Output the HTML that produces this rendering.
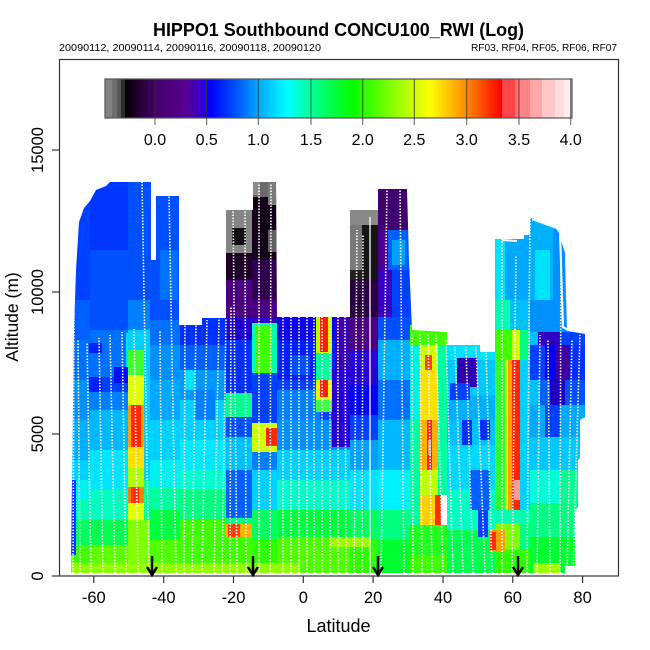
<!DOCTYPE html>
<html><head><meta charset="utf-8"><style>html,body{margin:0;padding:0;background:#fff}svg{display:block}</style></head><body>
<svg width="650" height="650" viewBox="0 0 650 650" xmlns="http://www.w3.org/2000/svg" font-family="'Liberation Sans', Arial, sans-serif">
<rect width="650" height="650" fill="#fff"/>
<defs>
<clipPath id="d"><polygon points="71,573 72,480 74,330 76,270 79,222 84,208 90,201 96,190 106,186 110,182 151,182 151,260 156,260 156,196 179,196 179,325 202,325 202,318 226,318 226,210 253,210 253,182 276,182 277,317 350,317 350,210 378,210 378,189 407,189 409,260 412,330 447,332 447,345 480,345 480,352 495,352 495,239 524,239 524,218 532,218 558,228 561,240 565,253 567,330 585,332 585,417 580,420 580,458 578,460 578,507 575,510 575,566 565,566 565,573"/></clipPath>
<linearGradient id="cb" x1="0" y1="0" x2="1" y2="0">
<stop offset="0" stop-color="#000000"/><stop offset="0.04" stop-color="#250035"/><stop offset="0.08" stop-color="#430068"/><stop offset="0.159" stop-color="#580090"/><stop offset="0.199" stop-color="#3a00c8"/><stop offset="0.228" stop-color="#0000ff"/><stop offset="0.305" stop-color="#0060ff"/><stop offset="0.353" stop-color="#00a8ff"/><stop offset="0.432" stop-color="#00ffff"/><stop offset="0.493" stop-color="#00ff99"/><stop offset="0.602" stop-color="#00ff00"/><stop offset="0.703" stop-color="#80ff00"/><stop offset="0.809" stop-color="#ffff00"/><stop offset="0.905" stop-color="#ff8a00"/><stop offset="1" stop-color="#ff0000"/>
</linearGradient>
</defs>
<g clip-path="url(#d)">
<rect x="70" y="180" width="20" height="120" fill="#0040ff"/>
<rect x="70" y="300" width="20" height="40" fill="#0060ff"/>
<rect x="70" y="340" width="20" height="40" fill="#0070ff"/>
<rect x="70" y="380" width="20" height="40" fill="#0090ff"/>
<rect x="70" y="420" width="20" height="40" fill="#00b0ff"/>
<rect x="70" y="460" width="20" height="20" fill="#00d0ff"/>
<rect x="70" y="480" width="20" height="20" fill="#00f0f0"/>
<rect x="70" y="500" width="20" height="20" fill="#00ffb0"/>
<rect x="70" y="520" width="20" height="25" fill="#00ff60"/>
<rect x="70" y="545" width="20" height="30" fill="#40ff00"/>
<rect x="70" y="480" width="6" height="75" fill="#0030ff"/>
<rect x="90" y="180" width="38" height="70" fill="#0035ff"/>
<rect x="90" y="250" width="38" height="80" fill="#0050ff"/>
<rect x="90" y="330" width="38" height="47" fill="#0070ff"/>
<rect x="90" y="377" width="38" height="15" fill="#0040ff"/>
<rect x="90" y="392" width="38" height="18" fill="#0080ff"/>
<rect x="90" y="410" width="38" height="40" fill="#00b8ff"/>
<rect x="90" y="450" width="38" height="40" fill="#00e4ff"/>
<rect x="90" y="490" width="38" height="30" fill="#00ffc0"/>
<rect x="90" y="520" width="38" height="25" fill="#00ff50"/>
<rect x="90" y="545" width="38" height="30" fill="#60ff00"/>
<rect x="89" y="377" width="13" height="15" fill="#0020ff"/>
<rect x="114" y="367" width="15" height="16" fill="#0010ff"/>
<rect x="89" y="343" width="13" height="10" fill="#0020ff"/>
<rect x="126" y="333" width="4" height="34" fill="#00e0ff"/>
<rect x="128" y="180" width="22" height="120" fill="#0050ff"/>
<rect x="128" y="300" width="22" height="30" fill="#0080ff"/>
<rect x="128" y="330" width="22" height="20" fill="#00d0ff"/>
<rect x="128" y="350" width="22" height="225" fill="#a0ff00"/>
<rect x="128" y="350" width="16" height="25" fill="#40ff30"/>
<rect x="128" y="375" width="16" height="30" fill="#e0ff00"/>
<rect x="128" y="405" width="16" height="42" fill="#ffa000"/>
<rect x="131" y="405" width="10" height="42" fill="#ff2800"/>
<rect x="128" y="447" width="16" height="20" fill="#ffe000"/>
<rect x="128" y="467" width="16" height="20" fill="#b0ff00"/>
<rect x="128" y="487" width="16" height="16" fill="#ff8000"/>
<rect x="131" y="487" width="8" height="16" fill="#ff3000"/>
<rect x="128" y="503" width="16" height="17" fill="#e0ff00"/>
<rect x="128" y="520" width="22" height="55" fill="#80ff00"/>
<rect x="144" y="350" width="6" height="130" fill="#00d0ff"/>
<rect x="144" y="480" width="6" height="40" fill="#00ffa0"/>
<rect x="150" y="180" width="30" height="140" fill="#0050ff"/>
<rect x="160" y="250" width="18" height="50" fill="#0070ff"/>
<rect x="150" y="320" width="30" height="25" fill="#0070ff"/>
<rect x="150" y="345" width="30" height="35" fill="#0090ff"/>
<rect x="150" y="380" width="30" height="40" fill="#00a8ff"/>
<rect x="150" y="420" width="30" height="40" fill="#00d0ff"/>
<rect x="150" y="460" width="30" height="28" fill="#00f0f0"/>
<rect x="150" y="488" width="30" height="22" fill="#00ffa0"/>
<rect x="150" y="510" width="30" height="30" fill="#00ff40"/>
<rect x="150" y="540" width="30" height="35" fill="#50ff00"/>
<rect x="180" y="315" width="46" height="30" fill="#0030ff"/>
<rect x="180" y="345" width="46" height="25" fill="#0060ff"/>
<rect x="180" y="370" width="46" height="30" fill="#0098ff"/>
<rect x="180" y="400" width="46" height="40" fill="#00d0ff"/>
<rect x="180" y="440" width="46" height="30" fill="#00e8ff"/>
<rect x="180" y="470" width="46" height="20" fill="#00ffd0"/>
<rect x="180" y="490" width="46" height="30" fill="#00ff80"/>
<rect x="180" y="520" width="46" height="55" fill="#40ff00"/>
<rect x="195" y="390" width="20" height="30" fill="#0080ff"/>
<rect x="185" y="370" width="10" height="20" fill="#00e0ff"/>
<rect x="226" y="205" width="26" height="48" fill="#858585"/>
<rect x="232" y="228" width="14" height="17" fill="#101010"/>
<rect x="226" y="253" width="26" height="27" fill="#200028"/>
<rect x="226" y="280" width="26" height="37" fill="#4b0080"/>
<rect x="226" y="317" width="26" height="23" fill="#2000c8"/>
<rect x="226" y="340" width="26" height="53" fill="#0030ff"/>
<rect x="226" y="393" width="26" height="24" fill="#00ff90"/>
<rect x="226" y="417" width="26" height="20" fill="#0050ff"/>
<rect x="226" y="437" width="26" height="33" fill="#00c0ff"/>
<rect x="226" y="470" width="26" height="48" fill="#0060ff"/>
<rect x="226" y="518" width="26" height="6" fill="#00ff80"/>
<rect x="226" y="524" width="26" height="13" fill="#ffb000"/>
<rect x="228" y="524" width="12" height="13" fill="#ff4000"/>
<rect x="226" y="537" width="26" height="38" fill="#40ff00"/>
<rect x="252" y="180" width="25" height="17" fill="#6a6a6a"/>
<rect x="252" y="197" width="25" height="63" fill="#140018"/>
<rect x="253" y="182" width="7" height="13" fill="#8a8a8a"/>
<rect x="268" y="182" width="9" height="23" fill="#7a7a7a"/>
<rect x="268" y="230" width="9" height="22" fill="#606060"/>
<rect x="252" y="260" width="25" height="40" fill="#300050"/>
<rect x="252" y="300" width="25" height="17" fill="#4b0080"/>
<rect x="252" y="317" width="25" height="6" fill="#3000c0"/>
<rect x="252" y="323" width="25" height="50" fill="#00ffb0"/>
<rect x="255" y="325" width="17" height="48" fill="#40ff00"/>
<rect x="252" y="373" width="25" height="50" fill="#0040ff"/>
<rect x="252" y="423" width="25" height="29" fill="#d0ff00"/>
<rect x="266" y="428" width="11" height="18" fill="#ff2800"/>
<rect x="252" y="452" width="25" height="18" fill="#0080ff"/>
<rect x="252" y="470" width="25" height="40" fill="#00d0ff"/>
<rect x="252" y="510" width="25" height="30" fill="#00ff60"/>
<rect x="252" y="540" width="25" height="35" fill="#30ff00"/>
<rect x="277" y="315" width="73" height="25" fill="#1000f0"/>
<rect x="277" y="340" width="73" height="40" fill="#0020ff"/>
<rect x="277" y="380" width="73" height="40" fill="#0040ff"/>
<rect x="277" y="420" width="73" height="30" fill="#0090ff"/>
<rect x="277" y="450" width="73" height="30" fill="#00d0ff"/>
<rect x="277" y="480" width="73" height="30" fill="#00ffc8"/>
<rect x="277" y="510" width="73" height="27" fill="#00ff40"/>
<rect x="277" y="537" width="73" height="38" fill="#50ff00"/>
<rect x="277" y="390" width="43" height="30" fill="#0080ff"/>
<rect x="290" y="355" width="20" height="20" fill="#0050ff"/>
<rect x="316" y="317" width="16" height="36" fill="#c0ff00"/>
<rect x="320" y="317" width="8" height="35" fill="#ff2000"/>
<rect x="316" y="353" width="16" height="27" fill="#00ffa0"/>
<rect x="316" y="380" width="16" height="20" fill="#e0ff00"/>
<rect x="320" y="380" width="8" height="17" fill="#ff2000"/>
<rect x="316" y="400" width="16" height="12" fill="#40ff40"/>
<rect x="332" y="370" width="18" height="77" fill="#2800d0"/>
<rect x="335" y="317" width="15" height="53" fill="#3a00b0"/>
<rect x="330" y="537" width="40" height="10" fill="#a0ff00"/>
<rect x="350" y="205" width="28" height="35" fill="#8a8a8a"/>
<rect x="350" y="240" width="28" height="40" fill="#202020"/>
<rect x="350" y="225" width="12" height="45" fill="#7a7a7a"/>
<rect x="362" y="225" width="16" height="65" fill="#151515"/>
<rect x="350" y="280" width="28" height="37" fill="#2a0040"/>
<rect x="350" y="317" width="28" height="33" fill="#4b0080"/>
<rect x="350" y="350" width="28" height="35" fill="#2800d8"/>
<rect x="350" y="385" width="28" height="30" fill="#0000ff"/>
<rect x="350" y="415" width="28" height="25" fill="#0040ff"/>
<rect x="350" y="440" width="28" height="30" fill="#00a0ff"/>
<rect x="350" y="470" width="28" height="40" fill="#00e0ff"/>
<rect x="350" y="510" width="28" height="30" fill="#00ff60"/>
<rect x="350" y="540" width="28" height="35" fill="#30ff00"/>
<rect x="350" y="537" width="20" height="10" fill="#a0ff00"/>
<rect x="378" y="185" width="35" height="45" fill="#400070"/>
<rect x="378" y="230" width="10" height="40" fill="#4b0090"/>
<rect x="388" y="230" width="25" height="40" fill="#0060ff"/>
<rect x="392" y="240" width="13" height="25" fill="#00a0ff"/>
<rect x="378" y="270" width="14" height="47" fill="#3a00c0"/>
<rect x="392" y="270" width="21" height="47" fill="#0040ff"/>
<rect x="378" y="317" width="35" height="23" fill="#0050ff"/>
<rect x="378" y="340" width="32" height="40" fill="#00b0ff"/>
<rect x="378" y="380" width="32" height="40" fill="#0070ff"/>
<rect x="378" y="420" width="32" height="50" fill="#00b8ff"/>
<rect x="378" y="470" width="32" height="40" fill="#00f0ff"/>
<rect x="378" y="510" width="32" height="30" fill="#00ff80"/>
<rect x="378" y="540" width="32" height="35" fill="#00ff30"/>
<rect x="410" y="325" width="37" height="20" fill="#40ff00"/>
<rect x="410" y="345" width="10" height="75" fill="#00f0e0"/>
<rect x="410" y="420" width="10" height="105" fill="#00ffa0"/>
<rect x="420" y="345" width="18" height="25" fill="#d0ff00"/>
<rect x="425" y="355" width="7" height="17" fill="#ff4000"/>
<rect x="420" y="370" width="18" height="50" fill="#ffe000"/>
<rect x="420" y="420" width="18" height="50" fill="#ffb000"/>
<rect x="427" y="420" width="5" height="50" fill="#ff2020"/>
<rect x="428" y="440" width="3" height="15" fill="#ff9090"/>
<rect x="420" y="470" width="18" height="25" fill="#c0ff00"/>
<rect x="420" y="495" width="20" height="30" fill="#ffd000"/>
<rect x="435" y="495" width="6" height="30" fill="#ff3000"/>
<rect x="438" y="345" width="9" height="150" fill="#00ffa0"/>
<rect x="410" y="525" width="37" height="30" fill="#20ff20"/>
<rect x="410" y="555" width="37" height="20" fill="#40ff00"/>
<rect x="447" y="335" width="48" height="25" fill="#00e0ff"/>
<rect x="447" y="360" width="48" height="35" fill="#00c8ff"/>
<rect x="447" y="395" width="48" height="25" fill="#00b0ff"/>
<rect x="447" y="420" width="48" height="25" fill="#00c0ff"/>
<rect x="447" y="445" width="48" height="45" fill="#00d8ff"/>
<rect x="447" y="490" width="48" height="40" fill="#00ffc0"/>
<rect x="447" y="530" width="48" height="45" fill="#00ff50"/>
<rect x="457" y="358" width="20" height="29" fill="#3000b0"/>
<rect x="450" y="383" width="20" height="17" fill="#0040ff"/>
<rect x="462" y="420" width="10" height="25" fill="#0030ff"/>
<rect x="480" y="420" width="10" height="20" fill="#0030ff"/>
<rect x="470" y="470" width="20" height="40" fill="#0060ff"/>
<rect x="478" y="510" width="10" height="27" fill="#0040ff"/>
<rect x="495" y="235" width="10" height="65" fill="#00e0ff"/>
<rect x="505" y="235" width="25" height="65" fill="#00a8ff"/>
<rect x="495" y="300" width="15" height="30" fill="#00ffb0"/>
<rect x="510" y="300" width="20" height="30" fill="#00c0ff"/>
<rect x="495" y="330" width="17" height="30" fill="#40ff00"/>
<rect x="512" y="330" width="8" height="30" fill="#d0ff00"/>
<rect x="520" y="330" width="10" height="30" fill="#00ff80"/>
<rect x="495" y="360" width="10" height="150" fill="#30ff30"/>
<rect x="505" y="360" width="7" height="150" fill="#c0ff00"/>
<rect x="508" y="360" width="4" height="150" fill="#ffa000"/>
<rect x="512" y="360" width="8" height="150" fill="#ff2800"/>
<rect x="514" y="480" width="6" height="20" fill="#ff9a9a"/>
<rect x="520" y="360" width="10" height="150" fill="#00d0ff"/>
<rect x="495" y="510" width="35" height="13" fill="#00ffb0"/>
<rect x="495" y="523" width="25" height="27" fill="#80ff00"/>
<rect x="520" y="523" width="10" height="27" fill="#00ff80"/>
<rect x="495" y="550" width="35" height="25" fill="#30ff00"/>
<rect x="490" y="530" width="15" height="22" fill="#ffa000"/>
<rect x="490" y="532" width="6" height="18" fill="#ff3000"/>
<rect x="530" y="215" width="55" height="85" fill="#00b0ff"/>
<rect x="535" y="250" width="15" height="50" fill="#00e0ff"/>
<rect x="530" y="300" width="55" height="32" fill="#0090ff"/>
<rect x="553" y="230" width="12" height="100" fill="#0090ff"/>
<rect x="530" y="332" width="8" height="13" fill="#00c0ff"/>
<rect x="538" y="332" width="22" height="13" fill="#3000c0"/>
<rect x="560" y="332" width="25" height="13" fill="#0040ff"/>
<rect x="530" y="345" width="15" height="35" fill="#0040ff"/>
<rect x="545" y="345" width="10" height="35" fill="#0000ff"/>
<rect x="555" y="345" width="15" height="35" fill="#4000a0"/>
<rect x="570" y="345" width="15" height="35" fill="#0030ff"/>
<rect x="530" y="380" width="10" height="25" fill="#00c0ff"/>
<rect x="540" y="380" width="10" height="25" fill="#0060ff"/>
<rect x="550" y="380" width="15" height="25" fill="#2000c0"/>
<rect x="565" y="380" width="20" height="25" fill="#0050ff"/>
<rect x="530" y="405" width="55" height="32" fill="#00a8ff"/>
<rect x="545" y="405" width="15" height="32" fill="#0040ff"/>
<rect x="530" y="437" width="55" height="33" fill="#00c8ff"/>
<rect x="530" y="470" width="55" height="33" fill="#00ffd8"/>
<rect x="560" y="470" width="20" height="33" fill="#00ff90"/>
<rect x="530" y="503" width="55" height="34" fill="#00ff80"/>
<rect x="530" y="537" width="55" height="38" fill="#00ff30"/>
<rect x="533" y="563" width="27" height="12" fill="#a0ff00"/>
<rect x="70" y="563" width="230" height="12" fill="#90ff00"/>
<g stroke="#fff" stroke-width="1.6" stroke-dasharray="1.5 1.5" fill="none">
<line x1="73" y1="573" x2="74" y2="312"/>
<line x1="80" y1="573" x2="78" y2="340"/>
<line x1="91" y1="573" x2="87" y2="342"/>
<line x1="103" y1="573" x2="99" y2="338"/>
<line x1="115" y1="573" x2="110" y2="335"/>
<line x1="126" y1="573" x2="122" y2="332"/>
<line x1="138" y1="573" x2="134" y2="329"/>
<line x1="149" y1="573" x2="142" y2="182"/>
<line x1="162" y1="573" x2="160" y2="330"/>
<line x1="176" y1="573" x2="169" y2="196"/>
<line x1="184" y1="573" x2="185" y2="325"/>
<line x1="192" y1="573" x2="196" y2="325"/>
<line x1="202" y1="573" x2="207" y2="320"/>
<line x1="214" y1="573" x2="219" y2="318"/>
<line x1="222" y1="573" x2="226" y2="318"/>
<line x1="230" y1="573" x2="231" y2="307"/>
<line x1="237" y1="573" x2="233" y2="210"/>
<line x1="246" y1="573" x2="245" y2="210"/>
<line x1="259" y1="573" x2="259" y2="183"/>
<line x1="270" y1="573" x2="271" y2="183"/>
<line x1="283" y1="573" x2="283" y2="317"/>
<line x1="291" y1="573" x2="291" y2="317"/>
<line x1="299" y1="573" x2="299" y2="317"/>
<line x1="307" y1="573" x2="307" y2="317"/>
<line x1="314" y1="573" x2="314" y2="317"/>
<line x1="322" y1="573" x2="322" y2="317"/>
<line x1="330" y1="573" x2="330" y2="317"/>
<line x1="338" y1="573" x2="338" y2="317"/>
<line x1="346" y1="573" x2="345" y2="317"/>
<line x1="354" y1="573" x2="357" y2="230"/>
<line x1="362" y1="573" x2="363" y2="235"/>
<line x1="381" y1="573" x2="387" y2="189"/>
<line x1="404" y1="573" x2="400" y2="189"/>
<line x1="413" y1="573" x2="412" y2="333"/>
<line x1="422" y1="573" x2="420" y2="333"/>
<line x1="432" y1="573" x2="428" y2="333"/>
<line x1="443" y1="573" x2="436" y2="334"/>
<line x1="453" y1="573" x2="446" y2="340"/>
<line x1="463" y1="573" x2="455" y2="347"/>
<line x1="473" y1="573" x2="466" y2="347"/>
<line x1="485" y1="573" x2="476" y2="347"/>
<line x1="492" y1="573" x2="486" y2="350"/>
<line x1="502" y1="573" x2="502" y2="239"/>
<line x1="512" y1="573" x2="516" y2="255"/>
<line x1="527" y1="573" x2="530" y2="218"/>
<line x1="537" y1="573" x2="540" y2="335"/>
<line x1="550" y1="573" x2="548" y2="340"/>
<line x1="560" y1="573" x2="561" y2="225"/>
<line x1="567" y1="573" x2="572" y2="340"/>
<line x1="573" y1="573" x2="580" y2="335"/>
</g>
<line x1="370" y1="217" x2="370" y2="573" stroke="#fff" stroke-width="1.3"/>
<g stroke="#fff" stroke-width="2" fill="none">
<polyline points="532,219 557,228 560,233 563,327 568,330 585,333"/>
<polyline points="502,240 517,241"/>
</g>
</g>
<rect x="59.5" y="59.5" width="559" height="516.5" fill="none" stroke="#333" stroke-width="1.2"/>
<g stroke="#333" stroke-width="1.2">
<line x1="52" y1="576" x2="59" y2="576"/><line x1="52" y1="434" x2="59" y2="434"/><line x1="52" y1="292" x2="59" y2="292"/><line x1="52" y1="150" x2="59" y2="150"/>
<line x1="93.8" y1="576" x2="93.8" y2="583"/><line x1="163.7" y1="576" x2="163.7" y2="583"/><line x1="233.5" y1="576" x2="233.5" y2="583"/><line x1="303.3" y1="576" x2="303.3" y2="583"/><line x1="373.1" y1="576" x2="373.1" y2="583"/><line x1="443" y1="576" x2="443" y2="583"/><line x1="512.8" y1="576" x2="512.8" y2="583"/><line x1="582.6" y1="576" x2="582.6" y2="583"/>
</g>
<g stroke="#000" stroke-width="2.5" fill="none">
<line x1="152" y1="556" x2="152" y2="575"/><polyline points="147,567 152,575 157,567"/>
<line x1="253" y1="556" x2="253" y2="575"/><polyline points="248,567 253,575 258,567"/>
<line x1="378" y1="556" x2="378" y2="575"/><polyline points="373,567 378,575 383,567"/>
<line x1="518" y1="556" x2="518" y2="575"/><polyline points="513,567 518,575 523,567"/>
</g>
<rect x="105" y="79" width="7" height="39" fill="#828282"/>
<rect x="112" y="79" width="5" height="39" fill="#6e6e6e"/>
<rect x="117" y="79" width="4" height="39" fill="#555555"/>
<rect x="121" y="79" width="4" height="39" fill="#2c2c2c"/>
<rect x="125" y="79" width="377" height="39" fill="url(#cb)"/>
<rect x="502" y="79" width="13" height="39" fill="#ff4545"/>
<rect x="515" y="79" width="4" height="39" fill="#ff6a6a"/>
<rect x="519" y="79" width="11" height="39" fill="#ff8585"/>
<rect x="530" y="79" width="12" height="39" fill="#ffa6a6"/>
<rect x="542" y="79" width="13" height="39" fill="#ffc8c8"/>
<rect x="555" y="79" width="9" height="39" fill="#ffdcdc"/>
<rect x="564" y="79" width="8" height="39" fill="#ffeeee"/>
<rect x="105" y="79" width="467" height="39" fill="none" stroke="#555" stroke-width="1.2"/>
<g stroke="#333" stroke-width="1" stroke-opacity="0.8">
<line x1="155" y1="79" x2="155" y2="125"/><line x1="206.7" y1="79" x2="206.7" y2="125"/><line x1="258.3" y1="79" x2="258.3" y2="125"/><line x1="311" y1="79" x2="311" y2="125"/><line x1="362.7" y1="79" x2="362.7" y2="125"/><line x1="414.3" y1="79" x2="414.3" y2="125"/><line x1="466.7" y1="79" x2="466.7" y2="125"/><line x1="519" y1="79" x2="519" y2="125"/><line x1="570.7" y1="79" x2="570.7" y2="125"/>
</g>
<g font-size="16" text-anchor="middle" fill="#000">
<text x="155" y="145">0.0</text><text x="206.7" y="145">0.5</text><text x="258.3" y="145">1.0</text><text x="311" y="145">1.5</text><text x="362.7" y="145">2.0</text><text x="414.3" y="145">2.5</text><text x="466.7" y="145">3.0</text><text x="519" y="145">3.5</text><text x="570.7" y="145">4.0</text>
</g>
<text x="338.5" y="36" font-size="18" font-weight="bold" text-anchor="middle" textLength="371" lengthAdjust="spacingAndGlyphs">HIPPO1 Southbound CONCU100_RWI (Log)</text>
<text x="59" y="51" font-size="10.5" textLength="262" lengthAdjust="spacingAndGlyphs">20090112, 20090114, 20090116, 20090118, 20090120</text>
<text x="617" y="51" font-size="10.5" text-anchor="end" textLength="146" lengthAdjust="spacingAndGlyphs">RF03, RF04, RF05, RF06, RF07</text>
<g font-size="16.5" text-anchor="middle" fill="#000">
<text x="93.8" y="603">-60</text><text x="163.7" y="603">-40</text><text x="233.5" y="603">-20</text><text x="303.3" y="603">0</text><text x="373.1" y="603">20</text><text x="443" y="603">40</text><text x="512.8" y="603">60</text><text x="582.6" y="603">80</text>
</g>
<g font-size="16.5" text-anchor="middle" fill="#000">
<text transform="translate(43,576) rotate(-90)">0</text>
<text transform="translate(43,434) rotate(-90)">5000</text>
<text transform="translate(43,292) rotate(-90)">10000</text>
<text transform="translate(43,150) rotate(-90)">15000</text>
</g>
<text x="338.5" y="632" font-size="18" text-anchor="middle">Latitude</text>
<text transform="translate(18,317) rotate(-90)" font-size="17.5" text-anchor="middle">Altitude (m)</text>
</svg>
</body></html>
